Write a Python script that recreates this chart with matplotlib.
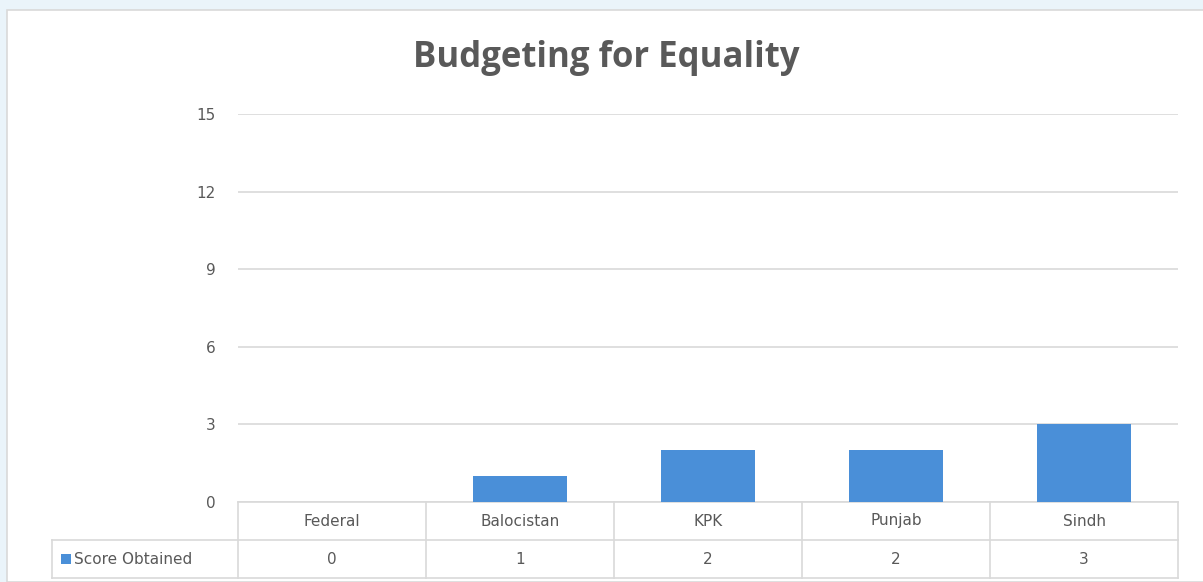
import matplotlib.pyplot as plt
from matplotlib.patches import Rectangle

# Data
categories = ['Federal', 'Balocistan', 'KPK', 'Punjab', 'Sindh']
scores = [0, 1, 2, 2, 3]
series_name = 'Score Obtained'
yticks = [0, 3, 6, 9, 12, 15]

W, H = 1203, 582
fig = plt.figure(figsize=(W / 100, H / 100), dpi=100)
fig.patch.set_facecolor('#eaf4fa')

# chart area (white with light border)
fig.patches.append(Rectangle((7 / W, 0), 1, 1 - 10 / H, transform=fig.transFigure,
                             facecolor='white', edgecolor='#d9d9d9', lw=1.2, zorder=-5))

ax = fig.add_axes([238 / W, (H - 502) / H, 940 / W, 388 / H])
ax.set_facecolor('none')
x = list(range(len(categories)))
ax.bar(x, scores, width=0.5, color='#4a8fd8', edgecolor='none', zorder=3)
ax.set_xlim(-0.5, len(categories) - 0.5)
ax.set_ylim(0, 15)
ax.set_yticks(yticks)
ax.grid(axis='y', color='#d9d9d9', lw=1.2, zorder=0)
ax.tick_params(axis='y', length=0, pad=16, labelsize=11, labelcolor='#595959')
ax.tick_params(axis='x', length=0, labelbottom=False)
for s in ax.spines.values():
    s.set_visible(False)
ax.set_axisbelow(True)

# data table under the plot
row_h = 38 / 388
grid_c = '#d9d9d9'
txt_c = '#595959'
lab_left = -0.5 - 186 / 188
tr = ax.get_xaxis_transform()
kw = dict(transform=tr, clip_on=False, color=grid_c, lw=1.2)
# horizontal lines
ax.plot([-0.5, 4.5], [0, 0], **kw)
ax.plot([lab_left, 4.5], [-row_h, -row_h], **kw)
ax.plot([lab_left, 4.5], [-2 * row_h, -2 * row_h], **kw)
# vertical lines
for i in range(len(categories) + 1):
    ax.plot([i - 0.5, i - 0.5], [0, -2 * row_h], **kw)
ax.plot([lab_left, lab_left], [-row_h, -2 * row_h], **kw)

for i, (c, v) in enumerate(zip(categories, scores)):
    ax.text(i, -0.5 * row_h, c, transform=tr, ha='center', va='center',
            fontsize=11, color=txt_c)
    ax.text(i, -1.5 * row_h, str(v), transform=tr, ha='center', va='center',
            fontsize=11, color=txt_c)

# legend key + series name
ax.add_patch(Rectangle((lab_left + 0.05, -1.5 * row_h - 0.013), 0.053, 0.026,
                       transform=tr, clip_on=False, facecolor='#4a8fd8', edgecolor='none'))
ax.text(lab_left + 0.115, -1.5 * row_h, series_name, transform=tr, ha='left',
        va='center', fontsize=11, color=txt_c)

fig.text(606 / W, 1 - 58 / H, 'Budgeting for Equality', ha='center', va='center',
         fontsize=25, fontweight='bold', color='#595959', family='Open Sans')

fig.savefig('out.png', dpi=100)
